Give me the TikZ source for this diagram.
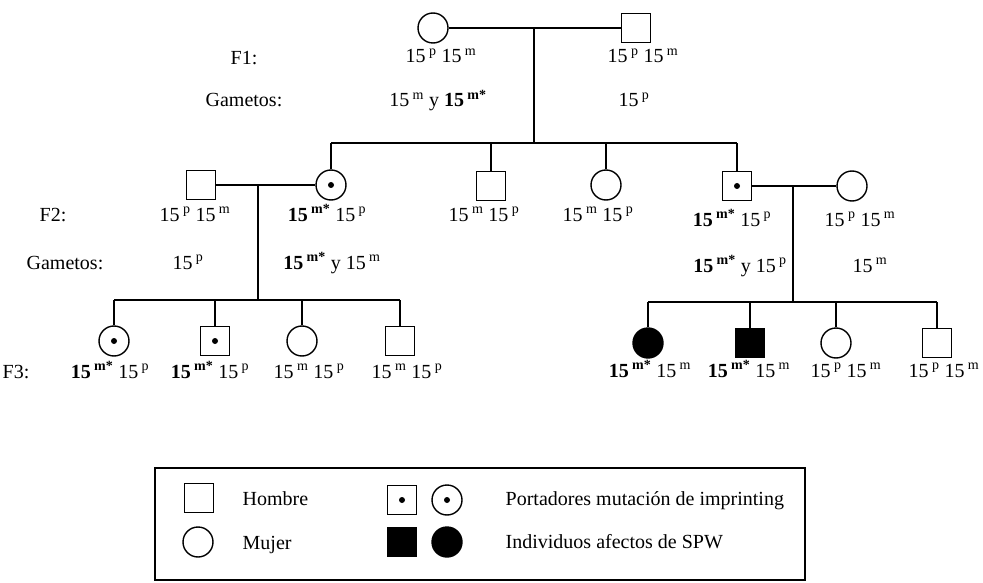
\documentclass[tikz,border=0pt]{standalone}
\usepackage{fontspec}
\setmainfont{Liberation Serif}
\usetikzlibrary{positioning}

% chromosome 15 alleles
\newcommand{\chP}{15\,\textsuperscript{p}}
\newcommand{\chM}{15\,\textsuperscript{m}}
\newcommand{\chX}{\textbf{15\,\textsuperscript{m*}}}

\begin{document}
\begin{tikzpicture}[
    x=1pt, y=-1pt,
    font=\fontsize{20}{24}\selectfont,
    line width=1.4pt,
    male/.style={rectangle, draw, minimum size=29pt, inner sep=0pt},
    female/.style={circle, draw, minimum size=30pt, inner sep=0pt},
    carrier/.style={path picture={\fill (path picture bounding box.center) circle (3pt);}},
    affected/.style={fill=black},
    geno/.style={anchor=base, inner sep=0pt},
    keytext/.style={anchor=base west, inner sep=0pt}
]
    \useasboundingbox (0,0) rectangle (983,583);

    % Generation F1
    \node (f1w) [female] at (433,28) {};
    \node (f1h) [male] at (636,28) {};
    \coordinate (f1d) at (534,28);

    \node (rf1) [geno] at (244,65) {F1:};
    \node (rgam1) [geno] at (244,107) {Gametos:};
    \node (g1w) [geno] at (441,63) {\chP\ \chM};
    \node (g1h) [geno] at (643,63) {\chP\ \chM};
    \node (gm1w) [geno] at (438,107) {\chM\ y \chX};
    \node (gm1h) [geno] at (634,107) {\chP};

    % Generation F2
    \node (f2a) [female, carrier] at (331,185) {};
    \node (f2b) [male] at (491,186) {};
    \node (f2c) [female] at (606,185) {};
    \node (f2d) [male, carrier] at (737,186) {};
    \node (f2ah) [male] at (201,185) {};
    \node (f2dw) [female] at (852,186) {};
    \coordinate (f2s) at (534,143);
    \coordinate (f2ad) at (258,185);
    \coordinate (f2dd) at (793,186);

    \node (rf2) [geno] at (53,221) {F2:};
    \node (rgam2) [geno] at (65,269) {Gametos:};
    \node (g2ah) [geno] at (195,221) {\chP\ \chM};
    \node (g2a) [geno] at (327,221) {\chX\ \chP};
    \node (g2b) [geno] at (484,221) {\chM\ \chP};
    \node (g2c) [geno] at (598,221) {\chM\ \chP};
    \node (g2d) [geno] at (732,226) {\chX\ \chP};
    \node (g2dw) [geno] at (860,226) {\chP\ \chM};
    \node (gm2ah) [geno] at (188,269) {\chP};
    \node (gm2a) [geno] at (332,269) {\chX\ y \chM};
    \node (gm2d) [geno] at (740,272) {\chX\ y \chP};
    \node (gm2dw) [geno] at (870,272) {\chM};

    % Generation F3
    \node (f3a) [female, carrier] at (114,341) {};
    \node (f3b) [male, carrier] at (215,341) {};
    \node (f3c) [female] at (302,341) {};
    \node (f3d) [male] at (400,341) {};
    \node (f3e) [female, affected] at (648,343) {};
    \node (f3f) [male, affected] at (750,343) {};
    \node (f3g) [female] at (836,343) {};
    \node (f3h) [male] at (937,343) {};
    \coordinate (f3s) at (258,300);
    \coordinate (f3t) at (793,302);

    \node (rf3) [geno] at (16,378) {F3:};
    \node (g3a) [geno] at (110,378) {\chX\ \chP};
    \node (g3b) [geno] at (210,378) {\chX\ \chP};
    \node (g3c) [geno] at (309,378) {\chM\ \chP};
    \node (g3d) [geno] at (407,378) {\chM\ \chP};
    \node (g3e) [geno] at (650,377) {\chX\ \chM};
    \node (g3f) [geno] at (749,377) {\chX\ \chM};
    \node (g3g) [geno] at (846,377) {\chP\ \chM};
    \node (g3h) [geno] at (944,377) {\chP\ \chM};

    % Matings and lines of descent
    \draw (f1w) -- (f1h);
    \draw (f1d) -- (f2s);
    \draw (f2a |- f2s) -- (f2d |- f2s);
    \foreach \k in {f2a,f2b,f2c,f2d}
        \draw (\k) -- (\k |- f2s);

    \draw (f2ah) -- (f2a);
    \draw (f2ad) -- (f3s);
    \draw (f3a |- f3s) -- (f3d |- f3s);
    \foreach \k in {f3a,f3b,f3c,f3d}
        \draw (\k) -- (\k |- f3s);

    \draw (f2d) -- (f2dw);
    \draw (f2dd) -- (f3t);
    \draw (f3e |- f3t) -- (f3h |- f3t);
    \foreach \k in {f3e,f3f,f3g,f3h}
        \draw (\k) -- (\k |- f3t);

    % Key
    \draw (155,468) rectangle (805,580);
    \node (keym) [male] at (199,498) {};
    \node (keyf) [female] at (198,542) {};
    \node (keycm) [male, carrier] at (402,500) {};
    \node (keycf) [female, carrier] at (447,500) {};
    \node (keyam) [male, affected] at (402,542) {};
    \node (keyaf) [female, affected] at (447,542) {};
    \node (keyt1) [keytext] at (242,505) {Hombre};
    \node (keyt2) [keytext] at (242,549) {Mujer};
    \node (keyt3) [keytext] at (505,505) {Portadores mutación de imprinting};
    \node (keyt4) [keytext] at (505,548) {Individuos afectos de SPW};

\end{tikzpicture}
\end{document}
